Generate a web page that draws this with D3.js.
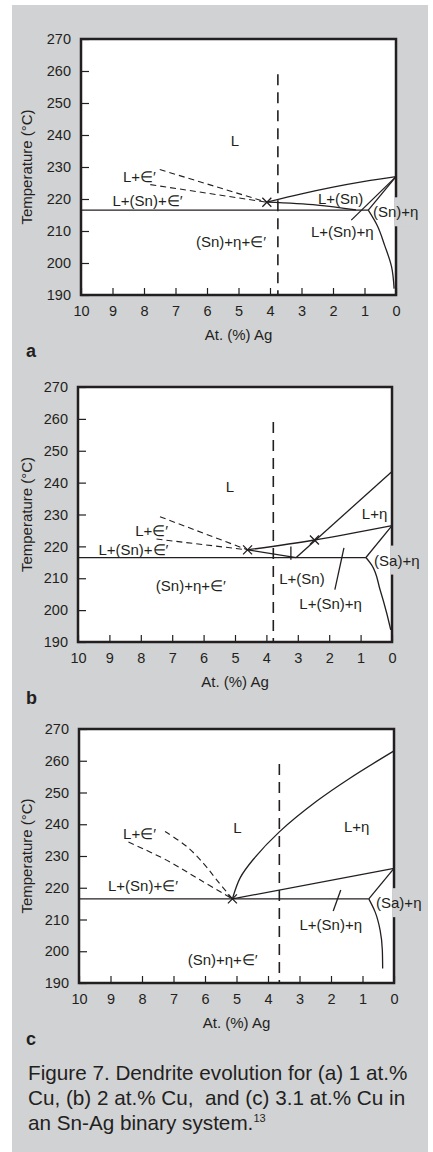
<!DOCTYPE html>
<html>
<head>
<meta charset="utf-8">
<script src="https://cdn.jsdelivr.net/npm/d3@7"></script>
<style>
  body { margin: 0; background: #fff; }
  text { font-family: "Liberation Sans", Arial, Helvetica, sans-serif; fill: #231f20; }
</style>
</head>
<body>
<script>
// axis ticks (shared by all three panels)
const agTicks = [10, 9, 8, 7, 6, 5, 4, 3, 2, 1, 0];
const tempTicks = [190, 200, 210, 220, 230, 240, 250, 260, 270];

// (a) 1 at.% Cu  -- [at.% Ag, temperature]
const aEutectic = [[10, 216.5], [0.88, 216.5]];
const aLiqSn = [[4.1, 219], [3.0, 221.6], [2.0, 223.7], [1.0, 225.5], [0, 227]];
const aLowSn = [[4.1, 219], [2.5, 218.1], [1.27, 216.6]];
const aFan1 = [[0, 227], [1.42, 213.4]];
const aFan2 = [[0, 227], [0.88, 216.5]];
const aSolvus = [[0.88, 216.5], [0.6, 211.8], [0.36, 205.5], [0.14, 198.8], [0.06, 192]];
const aDashUp = [[7.5, 229.2], [4.1, 219]];
const aDashLow = [[7.8, 224.5], [4.1, 219]];
const aCross = [[4.1, 219]];
const aAlloy = 3.75;
const aLabels = [
  ["L", 5.11, 238.4, "middle"],
  ["L+\u2208\u2032", 8.67, 226.9, "start"],
  ["L+(Sn)+\u2208\u2032", 9.0, 219.5, "start"],
  ["(Sn)+\u03b7+\u2208\u2032", 6.35, 206.7, "start"],
  ["L+(Sn)", 2.48, 220.3, "start"],
  ["(Sn)+\u03b7", 0.73, 216.0, "start"],
  ["L+(Sn)+\u03b7", 2.7, 209.8, "start"]
];

// (b) 2 at.% Cu
const bEutectic = [[10, 216.5], [0.83, 216.5]];
const bLiqSn = [[4.6, 218.9], [2.47, 222], [0, 226.5]];
const bLowSn = [[4.6, 218.9], [3.05, 216.5]];
const bLiqEta = [[3.05, 216.5], [0, 243.5]];
const bFan = [[0, 226.5], [0.83, 216.5]];
const bSolvus = [[0.83, 216.5], [0.65, 214.2], [0.38, 206.4], [0.17, 199.1], [0.04, 193.8]];
const bPtrSn = [[3.22, 220], [3.22, 215.8]];
const bPtrEta = [[1.82, 206.4], [1.53, 219.5]];
const bDashUp = [[7.39, 229.3], [4.6, 218.9]];
const bDashLow = [[7.5, 222.3], [4.6, 218.9]];
const bCross = [[4.6, 218.9], [2.47, 222]];
const bAlloy = 3.78;
const bLabels = [
  ["L", 5.16, 238.9, "middle"],
  ["L+\u2208\u2032", 8.18, 224.9, "start"],
  ["L+(Sn)+\u2208\u2032", 9.35, 219.1, "start"],
  ["(Sn)+\u03b7+\u2208\u2032", 7.52, 207.6, "start"],
  ["L+(Sn)", 3.59, 210.0, "start"],
  ["L+\u03b7", 0.96, 230.2, "start"],
  ["(Sa)+\u03b7", 0.57, 215.7, "start"],
  ["L+(Sn)+\u03b7", 2.95, 202.1, "start"]
];

// (c) 3.1 at.% Cu
const cEutectic = [[10, 216.5], [0.8, 216.5]];
const cLiqEta = [[5.13, 216.5], [4.88, 223.2], [4.47, 228.9], [3.64, 237.6], [2.45, 247.3], [1.4, 254.5], [0, 263.1]];
const cLiqSn = [[5.13, 216.5], [0, 226.1]];
const cFan = [[0, 226.1], [0.8, 216.5]];
const cSolvus = [[0.8, 216.5], [0.6, 212.4], [0.44, 206.6], [0.37, 200.3], [0.36, 194.6]];
const cPtrEta = [[1.93, 212.7], [1.69, 219.3]];
const cDashUp = [[7.27, 237.7], [6.58, 233], [6.05, 227.7], [5.63, 222.5], [5.13, 216.5]];
const cDashLow = [[8.43, 234.4], [7.22, 228.7], [6.16, 222.5], [5.13, 216.5]];
const cCross = [[5.13, 216.5]];
const cAlloy = 3.64;
const cLabels = [
  ["L", 4.97, 239.0, "middle"],
  ["L+\u03b7", 1.59, 239.2, "start"],
  ["L+\u2208\u2032", 8.6, 237.1, "start"],
  ["L+(Sn)+\u2208\u2032", 9.08, 220.7, "start"],
  ["(Sa)+\u03b7", 0.57, 215.3, "start"],
  ["L+(Sn)+\u03b7", 3.0, 208.5, "start"],
  ["(Sn)+\u03b7+\u2208\u2032", 6.55, 197.5, "start"]
];

const W = 433, H = 1152;
const grey = "#d1d2d4";
const ink = "#231f20";

const svg = d3.select("body").append("svg")
  .attr("width", W).attr("height", H);

svg.append("rect").attr("x", 12).attr("y", 5).attr("width", 416).attr("height", H - 5)
  .attr("fill", grey);

const panels = [
  {letter: "a", left: 81, right: 396, top: 39, bottom: 295,
   solid: [aEutectic, aLiqSn, aLowSn, aFan1, aFan2, aSolvus], curved: [aLiqSn, aLowSn], steep: [aSolvus],
   dashed: [aDashUp, aDashLow], cross: aCross, alloy: aAlloy, labels: aLabels, gapLabel: "(Sn)+\u03b7"},
  {letter: "b", left: 78, right: 392, top: 387, bottom: 642,
   solid: [bEutectic, bLiqSn, bLowSn, bLiqEta, bFan, bSolvus, bPtrSn, bPtrEta], curved: [bLiqSn], steep: [bSolvus],
   dashed: [bDashUp, bDashLow], cross: bCross, alloy: bAlloy, labels: bLabels, gapLabel: "(Sa)+\u03b7"},
  {letter: "c", left: 79, right: 394, top: 729, bottom: 983,
   solid: [cEutectic, cLiqEta, cLiqSn, cFan, cSolvus, cPtrEta], curved: [cLiqEta], steep: [cSolvus],
   dashed: [cDashUp, cDashLow], cross: cCross, alloy: cAlloy, labels: cLabels, gapLabel: "(Sa)+\u03b7"}
];

panels.forEach(p => {
  const x = d3.scaleLinear().domain([10, 0]).range([p.left, p.right]);
  const y = d3.scaleLinear().domain([190, 270]).range([p.bottom, p.top]);
  const g = svg.append("g");

  g.append("rect").attr("x", p.left).attr("y", p.top)
    .attr("width", p.right - p.left).attr("height", p.bottom - p.top).attr("fill", "#fff");

  // axes, ticks pointing inward
  const xa = g.append("g").attr("transform", `translate(0,${p.bottom})`)
    .call(d3.axisBottom(x).tickValues(agTicks).tickSize(-7).tickPadding(11).tickFormat(d3.format("d")));
  const ya = g.append("g").attr("transform", `translate(${p.left},0)`)
    .call(d3.axisLeft(y).tickValues(tempTicks).tickSize(-8).tickPadding(10).tickFormat(d3.format("d")));
  [xa, ya].forEach(a => {
    a.select(".domain").remove();
    a.selectAll("line").attr("stroke", ink).attr("stroke-width", 1.2);
    a.selectAll("text").attr("font-size", 14.5).attr("font-family", null).attr("fill", ink);
  });

  const line = d3.line().x(d => x(d[0])).y(d => y(d[1]));
  const smooth = d3.line().x(d => x(d[0])).y(d => y(d[1])).curve(d3.curveCatmullRom.alpha(0.5));
  const drop = d3.line().x(d => x(d[0])).y(d => y(d[1])).curve(d3.curveMonotoneY);
  const pick = d => p.curved.includes(d) ? smooth(d) : p.steep.includes(d) ? drop(d) : line(d);

  g.selectAll("path.phase").data(p.solid).join("path").attr("class", "phase")
    .attr("d", pick)
    .attr("fill", "none").attr("stroke", ink).attr("stroke-width", 1.3);

  g.selectAll("path.meta").data(p.dashed).join("path").attr("class", "meta")
    .attr("d", d => d.length > 2 ? smooth(d) : line(d))
    .attr("fill", "none").attr("stroke", ink).attr("stroke-width", 1.1)
    .attr("stroke-dasharray", "6,4");

  // alloy composition
  g.append("line")
    .attr("x1", x(p.alloy)).attr("x2", x(p.alloy))
    .attr("y1", y(259)).attr("y2", y(190))
    .attr("stroke", ink).attr("stroke-width", 1.6).attr("stroke-dasharray", "11,7");

  // invariant points
  g.selectAll("path.cross").data(p.cross).join("path").attr("class", "cross")
    .attr("d", d => {
      const cx = x(d[0]), cy = y(d[1]), r = 4.5;
      return `M${cx - r},${cy - r}L${cx + r},${cy + r}M${cx - r},${cy + r}L${cx + r},${cy - r}`;
    })
    .attr("stroke", ink).attr("stroke-width", 1.3);

  // frame
  g.append("rect").attr("x", p.left).attr("y", p.top)
    .attr("width", p.right - p.left).attr("height", p.bottom - p.top)
    .attr("fill", "none").attr("stroke", ink).attr("stroke-width", 2.5);

  const labs = g.selectAll("text.region").data(p.labels).join("text").attr("class", "region")
    .attr("x", d => x(d[1])).attr("y", d => y(d[2]) + 5.5)
    .attr("text-anchor", d => d[3])
    .attr("font-size", 15)
    .text(d => d[0]);

  // label over the right border breaks the frame
  labs.filter(d => d[0] === p.gapLabel).each(function () {
    const b = this.getBBox();
    g.insert("rect", () => this)
      .attr("x", p.right - 1.5).attr("y", b.y - 6)
      .attr("width", b.x + b.width - p.right + 4).attr("height", b.height + 12)
      .attr("fill", grey);
  });

  g.append("text").attr("x", (p.left + p.right) / 2).attr("y", p.bottom + 45)
    .attr("text-anchor", "middle").attr("font-size", 15).text("At. (%) Ag");

  g.append("text").attr("transform", `translate(32,${(p.top + p.bottom) / 2}) rotate(-90)`)
    .attr("text-anchor", "middle").attr("font-size", 15).text("Temperature (\u00b0C)");

  g.append("text").attr("x", 26).attr("y", p.bottom + 62)
    .attr("font-size", 18).attr("font-weight", "bold").text(p.letter);
});

const caption = [
  "Figure 7. Dendrite evolution for (a) 1 at.%",
  "Cu, (b) 2 at.% Cu,  and (c) 3.1 at.% Cu in",
  "an Sn-Ag binary system."
];
const cap = svg.append("text").attr("font-size", 20.7).attr("xml:space", "preserve");
caption.forEach((t, i) => {
  cap.append("tspan").attr("x", 28).attr("y", 1080 + i * 25).text(t);
});
cap.append("tspan").attr("font-size", 11).attr("dy", -8).text("13");
</script>
</body>
</html>
